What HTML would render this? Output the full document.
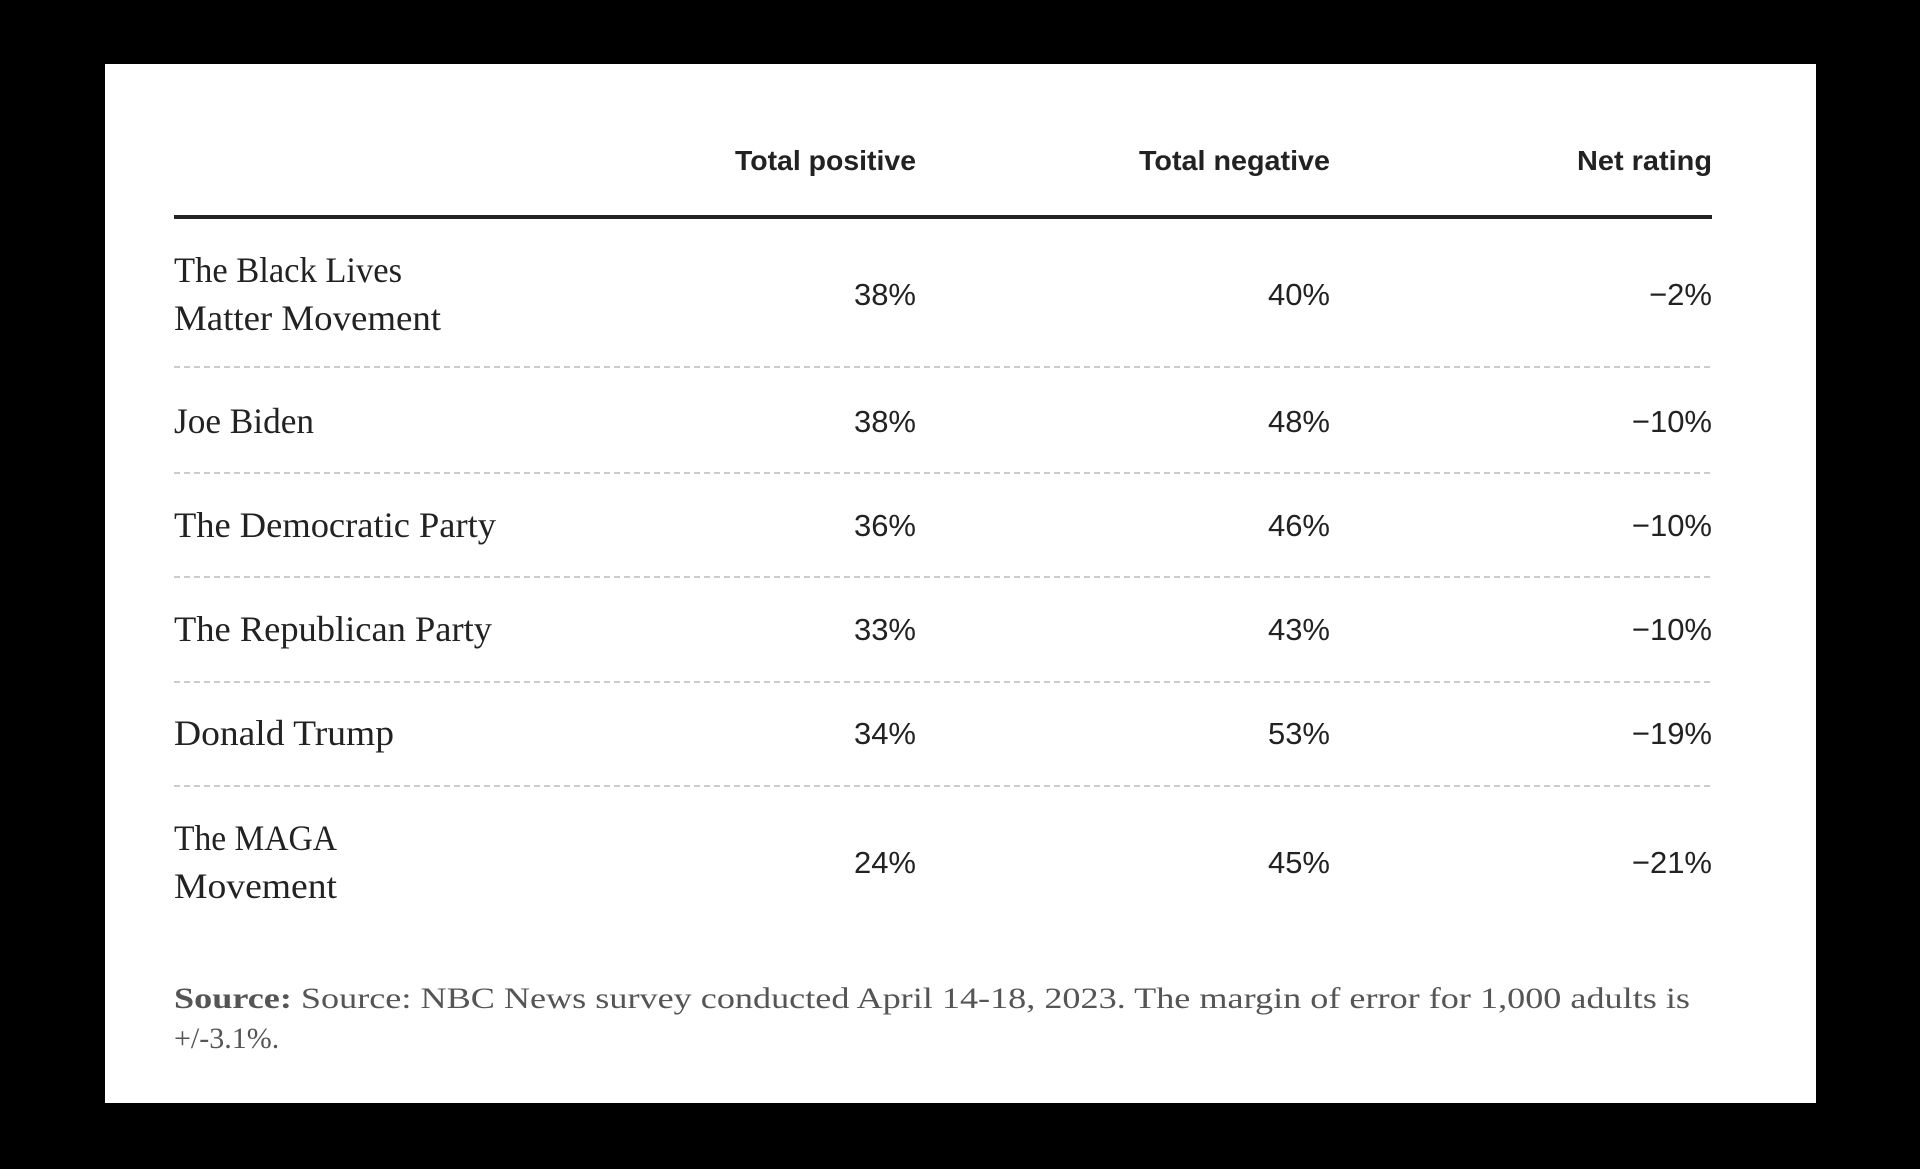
<!DOCTYPE html>
<html><head><meta charset="utf-8"><style>
html,body{margin:0;padding:0;background:#000;}
svg{display:block;}
</style></head><body>
<svg id="chart" width="1920" height="1169" viewBox="0 0 1920 1169" xmlns="http://www.w3.org/2000/svg">
<rect x="0" y="0" width="1920" height="1169" fill="#000"/>
<rect x="105" y="64" width="1711" height="1039" fill="#fff"/>
<g id="header" font-family="Liberation Sans, sans-serif" font-weight="bold" font-size="28" fill="#222" text-anchor="end">
<text x="916" y="170" textLength="181" lengthAdjust="spacingAndGlyphs">Total positive</text>
<text x="1330" y="170" textLength="191" lengthAdjust="spacingAndGlyphs">Total negative</text>
<text x="1712" y="170" textLength="135" lengthAdjust="spacingAndGlyphs">Net rating</text>
</g>
<rect x="174" y="215" width="1538" height="4" fill="#222"/>
<g id="rows"></g>
<text font-family="Liberation Serif, serif" font-size="30" fill="#555" x="174" y="1008" textLength="1516" lengthAdjust="spacingAndGlyphs"><tspan font-weight="bold">Source:</tspan> Source: NBC News survey conducted April 14-18, 2023. The margin of error for 1,000 adults is</text>
<text font-family="Liberation Serif, serif" font-size="30" fill="#555" x="174" y="1048">+/-3.1%.</text>
</svg>
<script>
const labels = [["The Black Lives","Matter Movement"],["Joe Biden"],["The Democratic Party"],["The Republican Party"],["Donald Trump"],["The MAGA","Movement"]];
const positive = [38,38,36,33,34,24];
const negative = [40,48,46,43,53,45];
const net = [-2,-10,-10,-10,-19,-21];
const NS="http://www.w3.org/2000/svg";
const g=document.getElementById('rows');
const rowCenters=[294,421,525,629,733,862];
const dividers=[367,473,577,682,786];
const labelWidths={"The Black Lives":228,"Matter Movement":267,"Joe Biden":140,"The Democratic Party":322,"The Republican Party":318,"Donald Trump":220,"The MAGA":163,"Movement":163};
function fmt(v){return (v<0?"\u2212":"")+Math.abs(v)+"%";}
function mk(tag,attrs){const e=document.createElementNS(NS,tag);for(const k in attrs)e.setAttribute(k,attrs[k]);return e;}
labels.forEach((lab,i)=>{
  const cy=rowCenters[i];
  const row=mk('g',{});
  
  
  lab.forEach((line,j)=>{
    const y=lab.length===1?cy+12:cy+12+(j===0?-24:24);
    const t=mk('text',{x:174,y:y,'font-family':'Liberation Serif, serif','font-size':36,fill:'#222',textLength:labelWidths[line]||200,lengthAdjust:'spacingAndGlyphs'});
    
    
    t.textContent=line;row.appendChild(t);
  });
  [[positive[i],916,'value-positive'],[negative[i],1330,'value-negative'],[net[i],1712,'value-net']].forEach(([v,x,n],k)=>{
    const t=mk('text',{x:x,y:cy+11,'font-family':'Liberation Sans, sans-serif','font-size':31,fill:'#222','text-anchor':'end'});
    
    
    t.textContent=k<2?v+"%":fmt(v);row.appendChild(t);
  });
  g.appendChild(row);
});
dividers.forEach(y=>{
  const l=mk('line',{x1:174,x2:1712,y1:y,y2:y,stroke:'#bbb','stroke-width':1.5,'stroke-dasharray':'6 4'});
  
  
  g.appendChild(l);
});
</script>
</body></html>
